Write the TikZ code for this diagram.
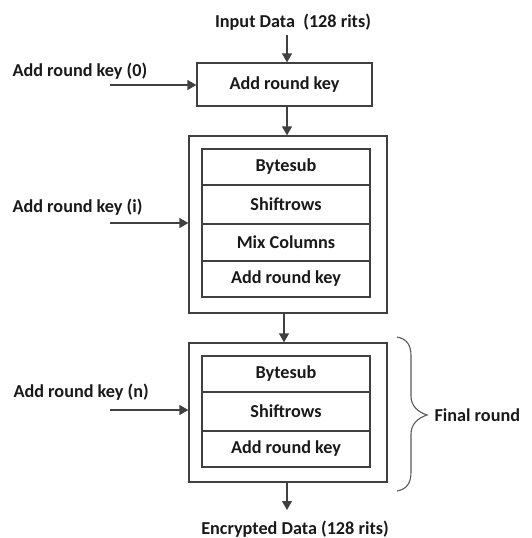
\documentclass[tikz,border=0pt]{standalone}
\usepackage{fontspec}
\setmainfont{Carlito}
\usetikzlibrary{arrows.meta}
\begin{document}
\begin{tikzpicture}[x=1pt,y=-1pt,
  every node/.style={font=\bfseries\fontsize{18.2}{20}\selectfont, text=black!90},
  line/.style={draw=black!75, line width=1.3pt},
  flow/.style={line, -{Triangle[length=9pt,width=10pt]}},
  outerbox/.style={line, rectangle, inner sep=0pt},
  rowbox/.style={line, rectangle, minimum width=168pt, inner sep=0pt}]
\useasboundingbox (0,0) rectangle (532,538);

% input and initial key addition
\node (in) at (293,22) {Input Data\ \ (128 rits)};
\node[outerbox, minimum width=175pt, minimum height=43pt] (ark0) at (284.5,84.5) {Add round key};
\node[anchor=west] (k0) at (9,71) {Add round key (0)};
\coordinate (k0s) at (110,85);
\draw[flow] (287,35) -- (ark0.north -| 287,0);
\draw[flow] (k0s) -- (k0s -| ark0.west);

% main round
\node[outerbox, minimum width=198pt, minimum height=177pt] (r1) at (288,224.5) {};
\node[rowbox, minimum height=36pt] (b1) at (286,167) {Bytesub};
\node[rowbox, minimum height=39pt] (s1) at (286,204.5) {Shiftrows};
\node[rowbox, minimum height=37pt] (m1) at (286,242.5) {Mix Columns};
\node[rowbox, minimum height=36pt] (a1) at (286,279) {Add round key};
\node[anchor=west] (ki) at (9,207) {Add round key (i)};
\coordinate (kis) at (110,223);
\draw[flow] (ark0.south -| 287,0) -- (r1.north -| 287,0);
\draw[flow] (kis) -- (kis -| r1.west);

% final round
\node[outerbox, minimum width=198pt, minimum height=139pt] (r2) at (288,412.5) {};
\node[rowbox, minimum height=36pt] (b2) at (286,374) {Bytesub};
\node[rowbox, minimum height=39pt] (s2) at (286,411.5) {Shiftrows};
\node[rowbox, minimum height=36pt] (a2) at (286,449) {Add round key};
\node[anchor=west] (kn) at (10,392) {Add round key (n)};
\coordinate (kns) at (110,410);
\draw[flow] (r1.south -| 284,0) -- (r2.north -| 284,0);
\draw[flow] (kns) -- (kns -| r2.west);

% output
\node (out) at (295,529) {Encrypted Data (128 rits)};
\draw[flow] (r2.south -| 287,0) -- (287,510);

% brace marking the final round
\draw[draw=black!65, line width=1.1pt]
  (397,337) .. controls (407,339) and (411,345) .. (411,356)
  -- (411,396) .. controls (411,406) and (418,412) .. (427,415)
  .. controls (418,418) and (411,424) .. (411,434)
  -- (411,472) .. controls (411,483) and (407,489) .. (397,491);
\node[anchor=west] (fr) at (431,415) {Final round};
\end{tikzpicture}
\end{document}
